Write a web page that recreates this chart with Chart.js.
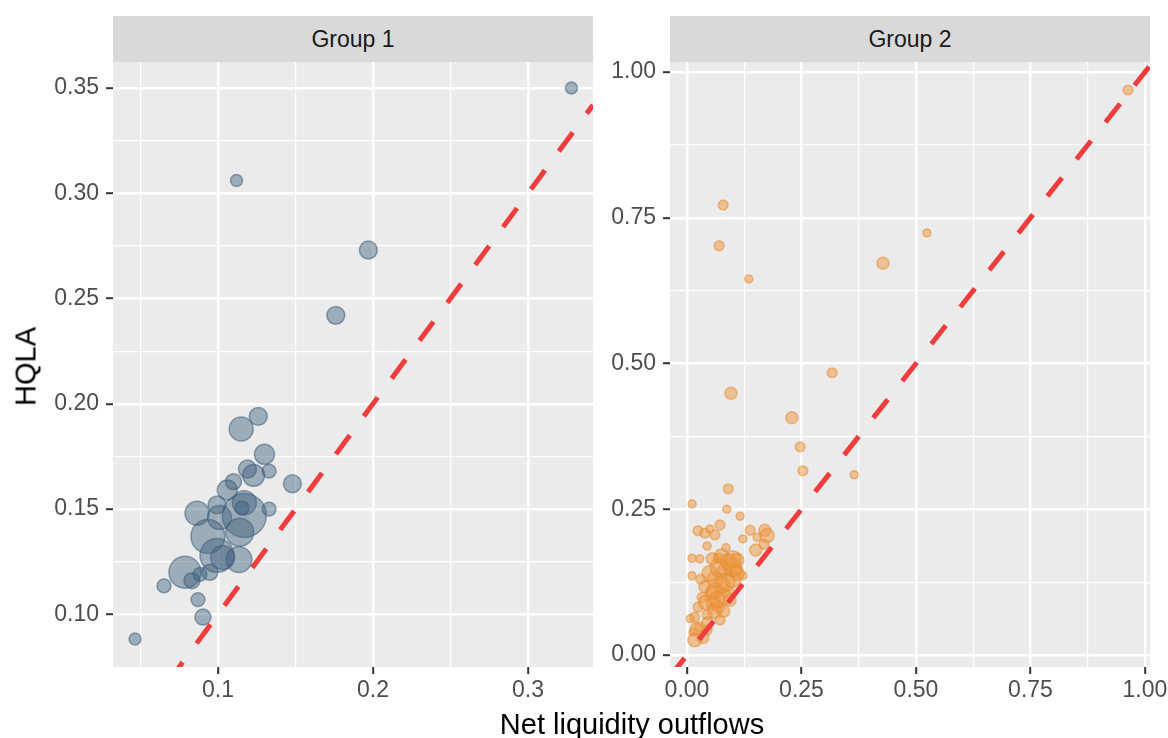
<!DOCTYPE html>
<html>
<head>
<meta charset="utf-8">
<script src="https://cdn.jsdelivr.net/npm/chart.js@4/dist/chart.umd.min.js"></script>
<style>
  html, body { margin: 0; padding: 0; background: #ffffff; overflow: hidden; }
  #wrap { position: relative; width: 1168px; height: 738px; overflow: hidden; font-family: 'Liberation Sans', Arial, sans-serif; }
  canvas { position: absolute; left: 0; top: 0; }
  .strip { position: absolute; top: 16px; height: 46px; width: 480px; background: #d9d9d9; color: #1a1a1a;
           font-size: 23px; line-height: 46px; text-align: center; }
  .xtitle { position: absolute; left: 332px; width: 600px; top: 710px; font-size: 29px; line-height: 29px; text-align: center; color: #000; }
  .ytitle { position: absolute; left: -74px; top: 352px; width: 200px; font-size: 29px; line-height: 29px; text-align: center; color: #000;
            transform: rotate(-90deg); }
</style>
</head>
<body>
<div id="wrap">
  <canvas id="c1" width="1168" height="738" style="width:1168px;height:738px"></canvas>
  <canvas id="c2" width="1168" height="738" style="width:1168px;height:738px"></canvas>
  <div class="strip" style="left:113px">Group 1</div>
  <div class="strip" style="left:670px">Group 2</div>
  <div class="xtitle">Net liquidity outflows</div>
  <div class="ytitle">HQLA</div>
</div>
<script>
// ---------------- DATA ----------------
const panelTitles = ['Group 1', 'Group 2'];
const xTitle = 'Net liquidity outflows';
const yTitle = 'HQLA';

// Group 1: net liquidity outflows (x), HQLA (y), bank size
const g1X = [0.328, 0.112, 0.197, 0.176, 0.126, 0.115, 0.130, 0.119, 0.123, 0.133, 0.110, 0.106, 0.148,
             0.0865, 0.0994, 0.101, 0.117, 0.117, 0.1155, 0.133, 0.114, 0.0935, 0.0994, 0.103, 0.1135,
             0.0787, 0.0832, 0.0884, 0.0948, 0.0652, 0.0871, 0.0903, 0.0465];
const g1Y = [0.350, 0.306, 0.273, 0.242, 0.194, 0.188, 0.176, 0.169, 0.166, 0.168, 0.163, 0.159, 0.162,
             0.148, 0.152, 0.146, 0.153, 0.147, 0.1505, 0.150, 0.139, 0.137, 0.128, 0.127, 0.126,
             0.120, 0.116, 0.119, 0.120, 0.1135, 0.107, 0.0987, 0.0883];
const g1Size = [9, 9, 20, 20, 20, 36, 25, 20, 30, 12, 16, 25, 20,
                36, 20, 36, 36, 121, 12, 12, 49, 72, 72, 36, 42,
                64, 16, 12, 16, 12, 12, 16, 9];

// Group 2
const g2X = [0.079, 0.070, 0.135, 0.428, 0.524, 0.317, 0.096, 0.229, 0.247, 0.253, 0.365, 0.963,
             0.090, 0.011, 0.087, 0.116, 0.170, 0.138, 0.153, 0.122, 0.168, 0.072, 0.024, 0.039,
             0.050, 0.061, 0.044, 0.085, 0.011, 0.028, 0.068, 0.109, 0.105, 0.011, 0.061, 0.076,
             0.122, 0.039, 0.055, 0.033, 0.090, 0.024, 0.057, 0.068, 0.017, 0.044, 0.007, 0.028,
             0.013, 0.044, 0.017, 0.083, 0.094, 0.072,
             0.050, 0.070, 0.090, 0.060, 0.080, 0.040, 0.100, 0.075, 0.055, 0.030, 0.045, 0.060,
             0.080, 0.100, 0.110, 0.085, 0.065, 0.035, 0.020, 0.100, 0.150, 0.175];
const g2Y = [0.772, 0.702, 0.645, 0.672, 0.724, 0.484, 0.449, 0.407, 0.357, 0.316, 0.309, 0.969,
             0.285, 0.259, 0.250, 0.238, 0.214, 0.214, 0.202, 0.199, 0.190, 0.223, 0.213, 0.209,
             0.216, 0.206, 0.187, 0.184, 0.166, 0.165, 0.166, 0.163, 0.146, 0.136, 0.129, 0.120,
             0.136, 0.117, 0.106, 0.099, 0.108, 0.082, 0.089, 0.082, 0.065, 0.069, 0.062, 0.048,
             0.039, 0.043, 0.026, 0.146, 0.094, 0.060,
             0.140, 0.150, 0.160, 0.110, 0.100, 0.090, 0.130, 0.170, 0.165, 0.130, 0.055, 0.075,
             0.075, 0.150, 0.140, 0.125, 0.095, 0.030, 0.045, 0.165, 0.180, 0.205];
const g2Size = [6, 6, 4, 9, 4, 6, 9, 9, 6, 6, 4, 6,
                6, 4, 4, 4, 9, 6, 4, 4, 6, 6, 6, 6,
                4, 6, 4, 4, 4, 4, 6, 12, 12, 4, 16, 16,
                4, 9, 12, 6, 9, 6, 12, 9, 6, 6, 4, 6,
                4, 6, 12, 12, 9, 6,
                16, 20, 16, 16, 16, 12, 16, 12, 9, 6, 9, 12,
                9, 20, 12, 20, 16, 9, 9, 16, 9, 12];

// Axis limits and ticks
const g1XRange = [0.0323, 0.3419];
const g1YRange = [0.075, 0.3623];
const g1XMajor = [0.1, 0.2, 0.3];
const g1XLabels = ['0.1', '0.2', '0.3'];
const g1XMinor = [0.05, 0.15, 0.25];
const g1YMajor = [0.10, 0.15, 0.20, 0.25, 0.30, 0.35];
const g1YLabels = ['0.10', '0.15', '0.20', '0.25', '0.30', '0.35'];
const g1YMinor = [0.125, 0.175, 0.225, 0.275, 0.325];

const g2XRange = [-0.0371, 1.011];
const g2YRange = [-0.0206, 1.0172];
const g2XMajor = [0, 0.25, 0.5, 0.75, 1.0];
const g2XLabels = ['0.00', '0.25', '0.50', '0.75', '1.00'];
const g2XMinor = [0.125, 0.375, 0.625, 0.875];
const g2YMajor = [0, 0.25, 0.5, 0.75, 1.0];
const g2YLabels = ['0.00', '0.25', '0.50', '0.75', '1.00'];
const g2YMinor = [0.125, 0.375, 0.625, 0.875];

// ---------------- STYLE / BUILD ----------------
Chart.defaults.font.family = "'Liberation Sans', Arial, sans-serif";
const near = (a, b) => Math.abs(a - b) < 1e-9;
const radius = s => 2 * Math.sqrt(s);

const panelBg = {
  id: 'panelBg',
  beforeDraw(chart) {
    const a = chart.chartArea, ctx = chart.ctx;
    ctx.save();
    ctx.fillStyle = '#ebebeb';
    ctx.fillRect(a.left, a.top, a.right - a.left, a.bottom - a.top);
    ctx.restore();
  }
};

function axis(range, major, labels, minor, isX, fixedSize, pad) {
  const all = major.concat(minor).sort((a, b) => a - b);
  const isMajor = v => major.some(m => near(m, v));
  return {
    type: 'linear',
    min: range[0], max: range[1],
    afterBuildTicks: s => { s.ticks = all.map(v => ({ value: v })); },
    afterFit: s => {
      if (isX) { s.height = fixedSize; s.paddingLeft = 0; s.paddingRight = 0; }
      else { s.width = fixedSize; s.paddingTop = 0; s.paddingBottom = 0; }
    },
    border: { display: false },
    grid: {
      color: '#ffffff',
      lineWidth: c => (c.tick && isMajor(c.tick.value)) ? 2.4 : 1.2,
      drawTicks: true,
      tickLength: 7,
      tickWidth: 2,
      tickColor: c => (c.tick && isMajor(c.tick.value)) ? '#333333' : 'rgba(0,0,0,0)'
    },
    ticks: {
      padding: pad,
      color: '#4d4d4d',
      font: { size: 23 },
      autoSkip: false,
      maxRotation: 0,
      callback: v => {
        const i = major.findIndex(m => near(m, v));
        return i >= 0 ? labels[i] : '';
      }
    }
  };
}

function makePanel(id, xs, ys, sizes, fill, stroke, xr, yr, xaxis, yaxis, padding) {
  const pts = xs.map((x, i) => ({ x: x, y: ys[i], r: radius(sizes[i]) }));
  const diag = [{ x: xr[0], y: xr[0] }, { x: xr[1], y: xr[1] }];
  return new Chart(document.getElementById(id), {
    type: 'bubble',
    data: {
      datasets: [
        { type: 'line', data: diag, borderColor: '#f03c3c', borderWidth: 5, borderDash: [23.5, 23.5],
          pointRadius: 0, fill: false, tension: 0, clip: 0, order: 0 },
        { type: 'bubble', data: pts, backgroundColor: fill, borderColor: stroke, borderWidth: 1.5, order: 1 }
      ]
    },
    options: {
      responsive: false,
      animation: false,
      events: [],
      layout: { padding: padding },
      plugins: { legend: { display: false }, tooltip: { enabled: false }, title: { display: false } },
      scales: { x: xaxis, y: yaxis }
    },
    plugins: [panelBg]
  });
}

makePanel('c1', g1X, g1Y, g1Size, 'rgba(61,95,124,0.45)', 'rgba(61,95,124,0.55)', g1XRange, g1YRange,
  axis(g1XRange, g1XMajor, g1XLabels, g1XMinor, true, 71, 3),
  axis(g1YRange, g1YMajor, g1YLabels, g1YMinor, false, 113, 7),
  { left: 0, top: 62, right: 575, bottom: 0 });

makePanel('c2', g2X, g2Y, g2Size, 'rgba(238,150,60,0.5)', 'rgba(230,140,50,0.55)', g2XRange, g2YRange,
  axis(g2XRange, g2XMajor, g2XLabels, g2XMinor, true, 71, 3),
  axis(g2YRange, g2YMajor, g2YLabels, g2YMinor, false, 110, 7),
  { left: 560, top: 62, right: 18, bottom: 0 });
</script>
</body>
</html>
